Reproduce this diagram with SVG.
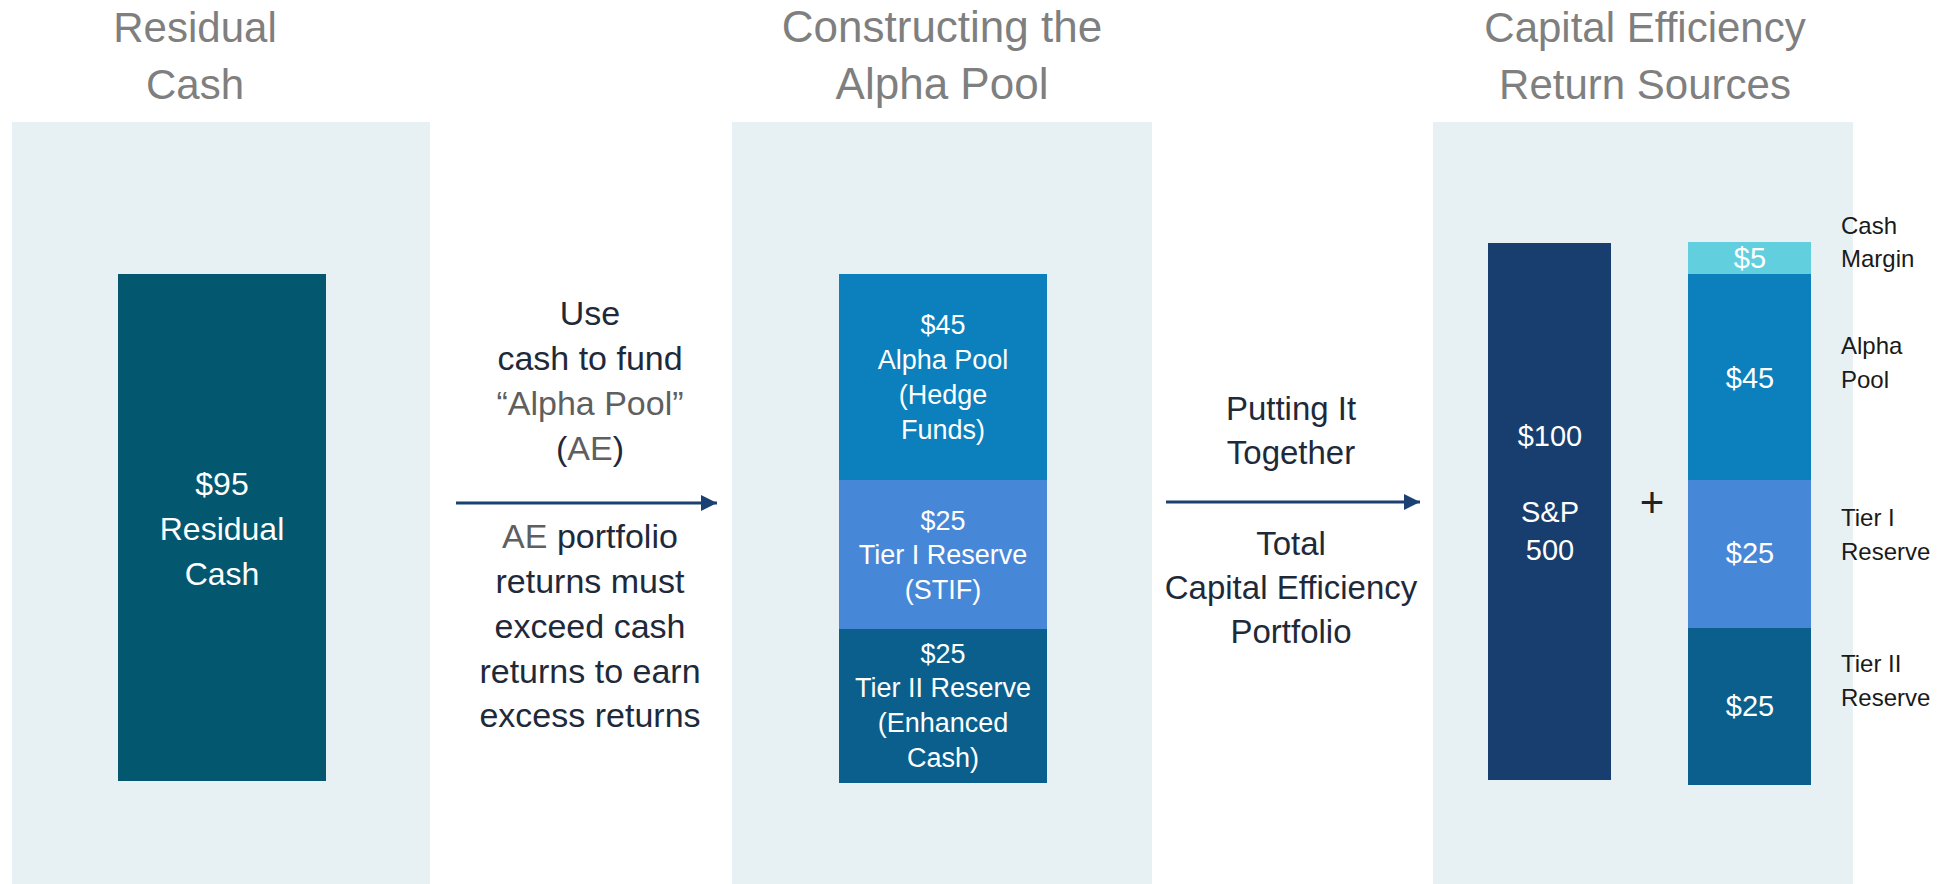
<svg xmlns="http://www.w3.org/2000/svg" width="1951" height="884" viewBox="0 0 1951 884">
<style>
.panel{fill:#e7f0f3}
.title{font-family:"Liberation Sans",Arial,sans-serif;font-size:42px;fill:#7f7f7f;text-anchor:middle}
.t44{font-size:44px}
.w{font-family:"Liberation Sans",Arial,sans-serif;fill:#ffffff;text-anchor:middle}
.mid{font-family:"Liberation Sans",Arial,sans-serif;font-size:34px;fill:#1e2a3a;text-anchor:middle}
.mid33{font-size:33px}
.gray{fill:#5f5f5f}
.lbl{font-family:"Liberation Sans",Arial,sans-serif;font-size:24px;fill:#1a1a1a}
.conn{stroke:#1b4172;stroke-width:3;fill:none}
</style>
<defs>
<marker id="ah" viewBox="0 0 10 10" refX="10" refY="5" markerWidth="5.5" markerHeight="5.5" orient="auto" markerUnits="strokeWidth">
<path d="M0,0 L10,5 L0,10 z" fill="#1b4172"/>
</marker>
</defs>
<rect width="1951" height="884" fill="#ffffff"/>
<g id="panels">
<rect class="panel" x="12" y="122" width="418" height="762"/>
<rect class="panel" x="732" y="122" width="420" height="762"/>
<rect class="panel" x="1433" y="122" width="420" height="762"/>
</g>
<g id="titles">
<text class="title" x="195" y="42">Residual</text>
<text class="title" x="195" y="99">Cash</text>
<text class="title t44" x="942" y="42">Constructing the</text>
<text class="title t44" x="942" y="99">Alpha Pool</text>
<text class="title" x="1645" y="42">Capital Efficiency</text>
<text class="title" x="1645" y="99">Return Sources</text>
</g>
<g id="residual-cash">
<rect x="118" y="274" width="208" height="507" fill="#03576f"/>
<text class="w" font-size="32" x="222" y="495">$95</text>
<text class="w" font-size="32" x="222" y="540">Residual</text>
<text class="w" font-size="32" x="222" y="585">Cash</text>
</g>
<g id="note-fund">
<text class="mid" x="590" y="325">Use</text>
<text class="mid" x="590" y="370">cash to fund</text>
<text class="mid gray" x="590" y="415">“Alpha Pool”</text>
<text class="mid" x="590" y="460">(<tspan class="gray">AE</tspan>)</text>
<text class="mid" x="590" y="548"><tspan class="gray">AE</tspan> portfolio</text>
<text class="mid" x="590" y="593">returns must</text>
<text class="mid" x="590" y="638">exceed cash</text>
<text class="mid" x="590" y="683">returns to earn</text>
<text class="mid" x="590" y="727">excess returns</text>
</g>
<g id="alpha-pool-stack">
<rect x="839" y="274" width="208" height="206" fill="#0b80bc"/>
<rect x="839" y="480" width="208" height="149" fill="#4787d8"/>
<rect x="839" y="629" width="208" height="154" fill="#0a5f8c"/>
<text class="w" font-size="27" x="943" y="334">$45</text>
<text class="w" font-size="27" x="943" y="369">Alpha Pool</text>
<text class="w" font-size="27" x="943" y="404">(Hedge</text>
<text class="w" font-size="27" x="943" y="439">Funds)</text>
<text class="w" font-size="27" x="943" y="530">$25</text>
<text class="w" font-size="27" x="943" y="564">Tier I Reserve</text>
<text class="w" font-size="27" x="943" y="599">(STIF)</text>
<text class="w" font-size="27" x="943" y="663">$25</text>
<text class="w" font-size="27" x="943" y="697">Tier II Reserve</text>
<text class="w" font-size="27" x="943" y="732">(Enhanced</text>
<text class="w" font-size="27" x="943" y="767">Cash)</text>
</g>
<g id="note-together">
<text class="mid mid33" x="1291" y="420">Putting It</text>
<text class="mid mid33" x="1291" y="464">Together</text>
<text class="mid mid33" x="1291" y="555">Total</text>
<text class="mid mid33" x="1291" y="599">Capital Efficiency</text>
<text class="mid mid33" x="1291" y="643">Portfolio</text>
</g>
<g id="sp500">
<rect x="1488" y="243" width="123" height="537" fill="#173e6e"/>
<text class="w" font-size="29" x="1550" y="446">$100</text>
<text class="w" font-size="29" x="1550" y="522">S&amp;P</text>
<text class="w" font-size="29" x="1550" y="560">500</text>
</g>
<g id="plus">
<text x="1652" y="517" font-family="Liberation Sans, Arial, sans-serif" font-size="42" fill="#222222" text-anchor="middle">+</text>
</g>
<g id="return-stack">
<rect x="1688" y="242" width="123" height="32" fill="#62cfdf"/>
<rect x="1688" y="274" width="123" height="206" fill="#0b80bc"/>
<rect x="1688" y="480" width="123" height="148" fill="#4787d8"/>
<rect x="1688" y="628" width="123" height="157" fill="#0a5f8c"/>
<text class="w" font-size="29" x="1750" y="268">$5</text>
<text class="w" font-size="29" x="1750" y="388">$45</text>
<text class="w" font-size="29" x="1750" y="563">$25</text>
<text class="w" font-size="29" x="1750" y="716">$25</text>
</g>
<g id="labels">
<text class="lbl" x="1841" y="234">Cash</text>
<text class="lbl" x="1841" y="267">Margin</text>
<text class="lbl" x="1841" y="354">Alpha</text>
<text class="lbl" x="1841" y="388">Pool</text>
<text class="lbl" x="1841" y="526">Tier I</text>
<text class="lbl" x="1841" y="560">Reserve</text>
<text class="lbl" x="1841" y="672">Tier II</text>
<text class="lbl" x="1841" y="706">Reserve</text>
</g>
<g id="connectors">
<line class="conn" x1="456" y1="503" x2="717" y2="503" marker-end="url(#ah)"/>
<line class="conn" x1="1166" y1="502" x2="1420" y2="502" marker-end="url(#ah)"/>
</g>
</svg>
